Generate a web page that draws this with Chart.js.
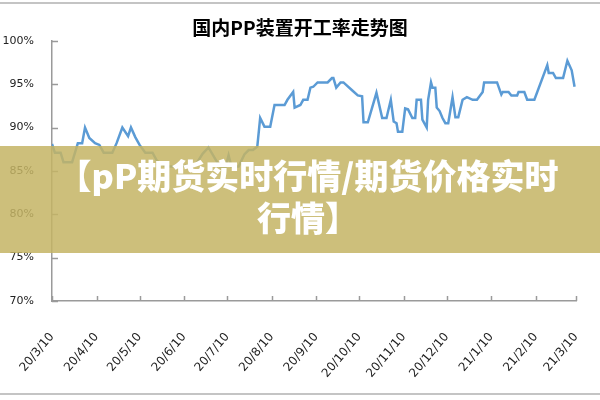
<!DOCTYPE html>
<html>
<head>
<meta charset="utf-8">
<script src="https://cdn.jsdelivr.net/npm/chart.js@4.4.1/dist/chart.umd.min.js"></script>
<style>
  html, body { margin: 0; padding: 0; background: #fff; }
  #wrap { position: relative; width: 600px; height: 400px; overflow: hidden; }
  #c { position: absolute; left: 0; top: 0; }
  .rule { position: absolute; left: 0; width: 600px; height: 2px; background: #c4c4c4; }
  #banner {
    position: absolute; left: 0; top: 146px; width: 600px; height: 107px;
    background: rgba(196,180,100,0.85);
    color: #fff; text-align: center; box-sizing: border-box; padding-top: 8px; padding-left: 16px;
    font-family: "Noto Sans CJK SC", "Noto Sans", sans-serif; font-weight: 900;
    font-size: 34px; line-height: 42px; white-space: nowrap;
  }
</style>
</head>
<body>
<div id="wrap">
  <canvas id="c" width="600" height="400"></canvas>
  <div class="rule" style="top:2px"></div>
  <div class="rule" style="top:393px"></div>
  <div id="banner">【pP期货实时行情/期货价格实时<br>行情】</div>
</div>
<script>
// ---- data ----
const chartTitle = '国内PP装置开工率走势图';
const monthLabels = ['20/3/10','20/4/10','20/5/10','20/6/10','20/7/10','20/8/10','20/9/10','20/10/10','20/11/10','20/12/10','21/1/10','21/2/10','21/3/10'];
const monthDays = [0,31,61,92,122,153,184,214,245,275,306,337,365];
// days since 2020-03-10
const dayIndex = [0,2,6,8,14,18,21,23,26,30,33,36,42,45,49,53,55,58,61,65,70,73,79,89,100,105,109,114,117,121,123,125,130,134,137,140,143,145,148,152,155,162,164,168,169,173,175,178,180,182,185,192,195,196,198,201,203,209,213,216,217,220,226,230,233,236,238,240,241,244,246,248,251,253,254,257,258,261,262,264,265,267,268,270,272,274,276,279,281,283,286,289,293,296,300,301,310,313,314,318,320,324,325,329,331,336,345,346,349,351,356,359,362,364];
// operating rate, %
const rate = [88.1,87.1,87.1,86.0,86.0,88.2,88.2,90.0,88.8,88.2,88.0,87.1,87.1,88.2,90.0,89.0,90.0,88.9,88.0,87.1,87.1,86.2,85.5,85.5,85.7,87.0,87.7,86.3,85.5,85.5,86.8,85.5,85.5,86.9,87.4,87.4,87.8,91.1,90.1,90.1,92.6,92.6,93.2,94.1,92.3,92.6,93.2,93.2,94.6,94.7,95.2,95.2,95.7,95.7,94.6,95.2,95.2,94.3,93.7,93.6,90.6,90.6,94.0,91.1,91.1,93.2,90.7,90.5,89.5,89.5,92.2,92.1,91.1,91.1,93.2,93.2,90.9,90.0,93.2,95.2,94.6,94.6,92.3,91.9,91.1,90.5,90.5,93.5,91.2,91.2,93.2,93.5,93.2,93.2,94.1,95.2,95.2,93.8,94.1,94.1,93.7,93.7,94.1,94.1,93.2,93.2,97.2,96.3,96.3,95.7,95.7,97.7,96.6,94.7];
const yTicks = [70,75,80,85,90,95,100];

const points = dayIndex.map((d, i) => ({ x: d, y: rate[i] }));

const innerTicks = {
  id: 'innerTicks',
  afterDraw(chart) {
    const ctx = chart.ctx, a = chart.chartArea;
    const xs = chart.scales.x, ys = chart.scales.y;
    ctx.save();
    ctx.strokeStyle = '#9a9a9a';
    ctx.lineWidth = 1.5;
    ctx.beginPath();
    yTicks.forEach(v => { const y = Math.round(ys.getPixelForValue(v)) + 0.5; ctx.moveTo(a.left, y); ctx.lineTo(a.left + 6, y); });
    monthDays.forEach(v => { const x = Math.round(xs.getPixelForValue(v)) + 0.5; ctx.moveTo(x, a.bottom); ctx.lineTo(x, a.bottom - 5); });
    ctx.stroke();
    ctx.restore();
  }
};

new Chart(document.getElementById('c'), {
  type: 'line',
  data: { datasets: [{ data: points, borderColor: '#5b9bd5', borderWidth: 2.5, pointRadius: 0, tension: 0, fill: false }] },
  options: {
    responsive: false, animation: false,
    layout: { padding: { left: 0, right: 0, top: 0, bottom: 0 } },
    plugins: {
      legend: { display: false }, tooltip: { enabled: false },
      title: { display: true, text: chartTitle, color: '#000',
        font: { family: '"Noto Sans CJK SC", sans-serif', size: 19, weight: 'bold' },
        padding: { top: 16, bottom: 2 } }
    },
    scales: {
      x: {
        type: 'linear', min: 0, max: 365,
        grid: { display: false },
        border: { display: true, color: '#9a9a9a', width: 1.5 },
        afterBuildTicks(s) { s.ticks = monthDays.map(v => ({ value: v })); },
        afterFit(s) { s.height = 99; s.paddingLeft = 0; s.paddingRight = 24; },
        ticks: {
          autoSkip: false, minRotation: 50, maxRotation: 50, padding: 21, color: '#222',
          font: { family: '"DejaVu Sans", sans-serif', size: 12 },
          callback(v) { const i = monthDays.indexOf(v); return i >= 0 ? monthLabels[i] : ''; }
        }
      },
      y: {
        min: 70, max: 100,
        grid: { display: false },
        border: { display: true, color: '#9a9a9a', width: 1.5 },
        afterBuildTicks(s) { s.ticks = yTicks.map(v => ({ value: v })); },
        afterFit(s) { s.width = 52; },
        ticks: { padding: 10, color: '#222', font: { family: '"DejaVu Sans", sans-serif', size: 11 },
          callback(v) { return v + '%'; } }
      }
    }
  },
  plugins: [innerTicks]
});
</script>
</body>
</html>
